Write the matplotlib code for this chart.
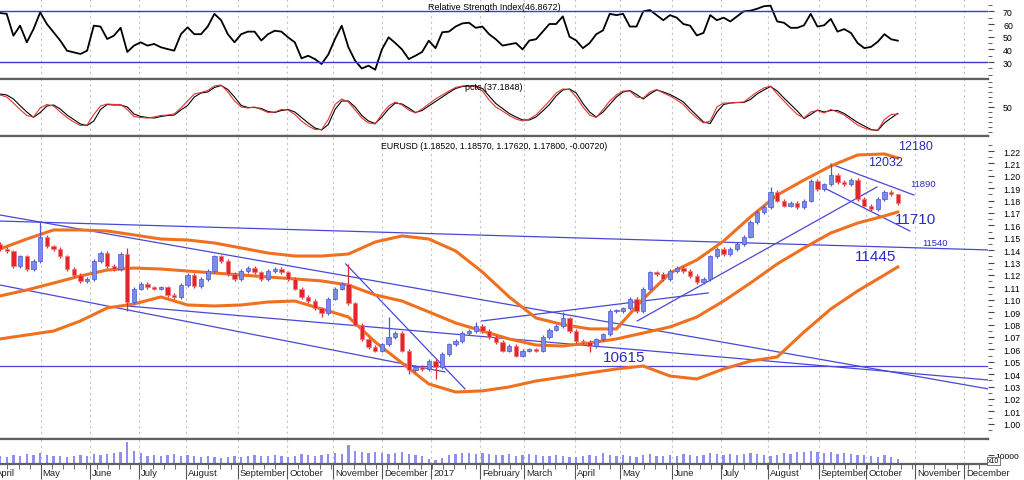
import numpy as np
import matplotlib
matplotlib.use("Agg")
import matplotlib.pyplot as plt

plt.rcParams['font.family'] = ['Liberation Sans', 'DejaVu Sans']

# one bar = 3 trading days, x axis is the bar number
month_pos = [-0.9, 6.07, 13.43, 20.75, 27.76, 35.52, 42.84, 49.7, 57.01, 64.33,
             71.64, 78.21, 85.82, 92.54, 100.3, 107.61, 114.63, 122.24, 129.25,
             136.57, 143.88]
month_names = ["April", "May", "June", "July", "August", "September", "October",
               "November", "December", "2017", "February", "March", "April", "May",
               "June", "July", "August", "September", "October", "November", "December"]

close = [1.141, 1.139, 1.127, 1.135, 1.125, 1.131, 1.151, 1.143, 1.141, 1.135,
         1.125, 1.120, 1.115, 1.117, 1.131, 1.138, 1.127, 1.125, 1.137, 1.098,
         1.109, 1.113, 1.110, 1.109, 1.110, 1.104, 1.102, 1.112, 1.120, 1.111,
         1.117, 1.123, 1.135, 1.131, 1.121, 1.117, 1.123, 1.126, 1.122, 1.117,
         1.123, 1.125, 1.122, 1.117, 1.109, 1.102, 1.099, 1.093, 1.089, 1.101,
         1.109, 1.113, 1.097, 1.080, 1.068, 1.062, 1.059, 1.064, 1.070, 1.073,
         1.059, 1.043, 1.046, 1.044, 1.051, 1.046, 1.056, 1.064, 1.067, 1.073,
         1.075, 1.079, 1.075, 1.070, 1.066, 1.059, 1.063, 1.055, 1.059, 1.060,
         1.059, 1.070, 1.076, 1.079, 1.085, 1.075, 1.067, 1.066, 1.063, 1.068,
         1.072, 1.091, 1.091, 1.093, 1.101, 1.091, 1.109, 1.122, 1.121, 1.117,
         1.123, 1.126, 1.123, 1.119, 1.114, 1.117, 1.135, 1.141, 1.137, 1.141,
         1.145, 1.151, 1.163, 1.171, 1.175, 1.187, 1.180, 1.176, 1.178, 1.175,
         1.180, 1.196, 1.189, 1.193, 1.201, 1.195, 1.193, 1.197, 1.181, 1.176,
         1.173, 1.181, 1.187, 1.1852, 1.178]
first_open = 1.145
spike_high = {6: 1.163, 19: 1.142, 52: 1.129, 58: 1.0865, 71: 1.082, 84: 1.090,
              115: 1.191, 124: 1.2095, 134: 1.1857}
spike_low = {19: 1.091, 48: 1.086, 61: 1.040, 65: 1.036, 88: 1.058, 134: 1.1762}

# bollinger style bands, sampled every 4 bars
band_bars = list(range(0, 133, 4)) + [134]
band_upper = [1.1410, 1.1490, 1.1563, 1.1563, 1.1555, 1.1523, 1.1490, 1.1482, 1.1458, 1.1418,
              1.1377, 1.1353, 1.1353, 1.1369, 1.1466, 1.1515, 1.1490, 1.1394, 1.1224, 1.1023,
              1.0853, 1.0800, 1.0765, 1.0765, 1.1006, 1.1216, 1.1321, 1.1474, 1.1668, 1.1845,
              1.1966, 1.2079, 1.2168, 1.2176, 1.2144]
band_mid = [1.1031, 1.1079, 1.1135, 1.1192, 1.1240, 1.1256, 1.1248, 1.1232, 1.1216, 1.1200,
            1.1184, 1.1168, 1.1152, 1.1119, 1.1039, 1.0990, 1.0902, 1.0813, 1.0748, 1.0684,
            1.0635, 1.0627, 1.0652, 1.0684, 1.0732, 1.0781, 1.0861, 1.0990, 1.1135, 1.1289,
            1.1418, 1.1539, 1.1619, 1.1676, 1.1708]
band_lower = [1.0684, 1.0716, 1.0748, 1.0829, 1.0934, 1.0966, 1.1023, 1.0958, 1.0950, 1.0958,
              1.0982, 1.0990, 1.0926, 1.0861, 1.0660, 1.0490, 1.0321, 1.0256, 1.0265, 1.0297,
              1.0345, 1.0377, 1.0410, 1.0442, 1.0466, 1.0385, 1.0361, 1.0442, 1.0506, 1.0539,
              1.0740, 1.0926, 1.1071, 1.1200, 1.1265]

rsi = [68.7, 68, 50.8, 58.7, 45.6, 56, 69.2, 60, 53.5, 46.9,
       39, 37.7, 36.4, 39, 58.7, 58, 48.2, 50.8, 57, 38,
       43, 45.6, 43, 44.3, 41.7, 40.3, 39, 52, 57.4, 52,
       52, 58, 68, 63, 52, 45.6, 52, 54, 54, 47,
       52, 54.7, 54, 49.5, 45.6, 33, 35, 32.4, 28.5, 36,
       48.2, 58.7, 41.7, 31.1, 25, 27.2, 24, 40, 49.5, 45,
       40, 32.4, 35, 38, 46.9, 41, 53.5, 54, 58, 60.5,
       61, 57, 58, 52, 48, 43, 44, 45, 40, 47,
       48, 54, 60, 60, 66, 50, 47, 41, 45, 52,
       55, 68, 67, 68, 58, 58, 70, 71, 67, 63,
       67, 65, 60, 58.7, 51, 53, 67, 63, 65, 62,
       66, 70, 70.5, 72, 74, 74.5, 62, 61, 57, 57,
       59, 68, 58, 59, 64, 54, 56, 53, 45, 41,
       42, 46, 52, 48, 46.87]

pctc_black = [76, 74, 66, 52.7, 40, 29.3, 39, 52, 54, 46,
              34, 25, 16, 13, 22, 45, 55, 54, 54, 50,
              36, 31, 29, 28, 31, 33, 34, 44, 53, 70,
              78, 80, 89, 93, 85, 70, 53, 49, 49, 47,
              41, 39, 43, 45, 40, 29, 18, 8, 4, 15,
              45, 62, 62, 50, 33, 22, 17, 30, 46, 58,
              56, 48, 39, 43, 52, 61, 70, 79, 87, 91,
              92, 92, 87, 72, 57, 47, 37, 30, 24, 24,
              30, 42, 55, 72, 84, 86, 78, 57, 40, 30,
              40, 55, 70, 80, 83, 75, 66, 76, 84, 80,
              75, 68, 60, 46, 33, 20, 17, 40, 55, 58,
              59, 59, 65, 76, 84, 91, 82, 68, 55, 42,
              27, 35, 44, 40, 43, 43, 37, 28, 19, 12,
              5, 3, 18, 28, 37.18]
pctc_red = [74, 70, 58, 45, 33, 30, 48, 55, 52, 40,
            29, 20, 13, 14, 35, 52, 56, 55, 55, 45,
            31, 29, 28, 30, 33, 34, 36, 48, 62, 76,
            79, 83, 92, 94, 80, 62, 50, 48, 50, 45,
            39, 40, 45, 44, 35, 22, 12, 5, 5, 25,
            55, 66, 60, 44, 28, 18, 16, 36, 52, 60,
            54, 44, 38, 46, 56, 66, 74, 82, 89, 92,
            93, 90, 82, 64, 50, 42, 33, 26, 22, 26,
            34, 48, 62, 78, 86, 85, 70, 50, 34, 29,
            45, 62, 74, 82, 82, 70, 68, 80, 85, 78,
            72, 64, 55, 40, 28, 18, 22, 50, 58, 58,
            59, 60, 70, 80, 88, 92, 76, 62, 48, 35,
            28, 40, 43, 38, 45, 40, 34, 24, 14, 8,
            4, 4, 25, 35, 36]

# volume in thousands
volume = [9, 8, 10, 9, 11, 10, 12, 10, 9, 9,
          8, 9, 10, 9, 11, 10, 11, 12, 13, 25,
          15, 12, 9, 10, 9, 10, 11, 9, 10, 9,
          8, 9, 8, 7, 8, 9, 8, 9, 10, 9,
          9, 10, 9, 8, 9, 11, 10, 9, 10, 11,
          12, 11, 21, 14, 13, 12, 13, 12, 11, 12,
          13, 11, 10, 9, 6, 5, 7, 10, 11, 12,
          12, 11, 12, 11, 10, 10, 11, 9, 10, 11,
          10, 9, 9, 10, 9, 8, 8, 9, 10, 9,
          12, 10, 9, 10, 9, 8, 10, 11, 9, 9,
          10, 9, 11, 10, 9, 10, 12, 11, 10, 11,
          10, 11, 12, 11, 10, 9, 10, 12, 11, 13,
          13, 14, 13, 12, 13, 11, 12, 11, 10, 10,
          9, 8, 10, 8, 6]

# hand drawn trend lines (bar, price) -> (bar, price)
trend_lines = [((0, 1.1635), (147.5, 1.1402)),
               ((0, 1.1684), (147.5, 1.0281)),
               ((0, 1.1119), (66.4, 1.0418)),
               ((18.96, 1.0950), (147.5, 1.0353)),
               ((0, 1.0466), (147.5, 1.0466)),
               ((51.6, 1.1289), (69.4, 1.0281)),
               ((71.9, 1.0829), (105.7, 1.1055)),
               ((95.1, 1.0829), (130.9, 1.1910)),
               ((124.0, 1.2095), (136.4, 1.1845)),
               ((123.3, 1.1894), (135.8, 1.1555))]

level_labels = [("12180", 136.6, 1.2240, 9),
                ("12032", 132.2, 1.2111, 9),
                ("11890", 137.8, 1.1934, 6.8),
                ("11710", 136.7, 1.1652, 11),
                ("11540", 139.6, 1.1466, 6.8),
                ("11445", 130.7, 1.1353, 11),
                ("10615", 93.1, 1.0539, 11)]

BLUE = '#3c3cc8'
ORANGE = '#f07020'
GRID = '#c4c4c4'
SEP = '#606060'
WICK = 0.0015

W, H = 1024, 481
fig = plt.figure(figsize=(W / 100, H / 100), dpi=100)


def panel(top, bottom, share=None):
    a = fig.add_axes([0, 1 - bottom / H, 988 / W, (bottom - top) / H], sharex=share)
    for s in ('left', 'right'):
        a.spines[s].set_visible(False)
    for s in ('top', 'bottom'):
        a.spines[s].set_color(SEP)
        a.spines[s].set_linewidth(1.6)
    a.yaxis.tick_right()
    a.tick_params(axis='y', which='both', direction='out', color='#444', labelsize=6.3,
                  length=4.3, pad=6.5)
    a.tick_params(axis='y', which='minor', length=3)
    a.tick_params(axis='x', which='both', length=0, labelbottom=False)
    for m in month_pos:
        a.axvline(m, color=GRID, lw=0.8, ls=(0, (2, 3)), zorder=0)
    return a


ax_rsi = panel(0, 80)
ax_rsi.spines['top'].set_visible(False)
ax_st = panel(80, 137, ax_rsi)
ax = panel(137, 440, ax_rsi)
ax_v = panel(440, 465, ax_rsi)

bars = np.arange(len(close))
ax_rsi.set_xlim(0, 147.46)

# RSI
ax_rsi.plot(bars, rsi, color='black', lw=1.3)
ax_rsi.axhline(70, color=BLUE, lw=1)
ax_rsi.axhline(30, color=BLUE, lw=1)
ax_rsi.set_ylim(16.7, 79.7)
ax_rsi.set_yticks([30, 40, 50, 60, 70])
ax_rsi.set_yticks(np.arange(20, 80, 5), minor=True)
ax_rsi.text(0.5, 0.91, "Relative Strength Index(46.8672)", transform=ax_rsi.transAxes,
            ha='center', va='center', fontsize=6.5)

# pctc
ax_st.plot(bars, pctc_black, color='black', lw=0.8)
ax_st.plot(bars, pctc_red, color='#e03535', lw=0.8)
ax_st.set_ylim(-8, 106)
ax_st.set_yticks([50])
ax_st.set_yticks(np.arange(0, 101, 10), minor=True)
ax_st.text(0.5, 0.86, "pctc (37.1848)", transform=ax_st.transAxes,
           ha='center', va='center', fontsize=6.5)

# price candles
opens = [first_open] + close[:-1]
for i, (o, c) in enumerate(zip(opens, close)):
    up = c >= o
    hi = spike_high.get(i, max(o, c) + WICK)
    lo = spike_low.get(i, min(o, c) - WICK)
    col = '#4a5ad4' if up else '#e3262c'
    ax.vlines(i, lo, hi, color=col, lw=0.9, zorder=3)
    body = max(abs(c - o), 0.0007)
    ax.bar(i, body, bottom=min(o, c), width=0.65, color='#7d8ae6' if up else '#e3262c',
           edgecolor=col if up else '#f07a7a', linewidth=0.5, zorder=4)

for band in (band_upper, band_mid, band_lower):
    ax.plot(band_bars, band, color=ORANGE, lw=2.2, zorder=2)

for (x0, y0), (x1, y1) in trend_lines:
    ax.plot([x0, x1], [y0, y1], color='#4848d8', lw=0.9, zorder=1)

for txt, x, y, fs in level_labels:
    ax.text(x, y, txt, color='#2a2ac0', fontsize=fs, ha='center', va='center')

ax.set_ylim(0.9877, 1.2321)
yt = np.arange(100, 123) / 100
ax.set_yticks(yt)
ax.set_yticklabels([f"{v:.2f}" for v in yt])
ax.set_yticks(np.arange(0.995, 1.23, 0.005), minor=True)
ax.text(0.5, 0.97, "EURUSD (1.18520, 1.18570, 1.17620, 1.17800, -0.00720)",
        transform=ax.transAxes, ha='center', va='center', fontsize=6.3)

# volume
ax_v.bar(bars, volume, width=0.35, color='#8f8ff0', zorder=2)
ax_v.set_ylim(0, 27.8)
ax_v.set_yticks([10])
ax_v.set_yticklabels(["10000"])
ax_v.tick_params(axis='y', which='major', pad=1, labelsize=6)
ax_v.text(1.0, 0.12, "x10", transform=ax_v.transAxes, fontsize=5, ha='left', va='center',
          bbox=dict(boxstyle='square,pad=0.1', fc='white', ec='#444', lw=0.5))

# month axis at the bottom
ax_v.set_xticks([m for m in month_pos if m > 0])
ax_v.set_xticks(np.arange(1.1, 147, 5 / 3), minor=True)
ax_v.tick_params(axis='x', which='major', length=11, color='#555', direction='out')
ax_v.tick_params(axis='x', which='minor', length=3.5, color='#555', direction='out')
for m, name in zip(month_pos, month_names):
    ax_v.text(m + 0.3, -0.36, name, transform=ax_v.get_xaxis_transform(),
              ha='left', va='center', fontsize=6.8, color='#222')

fig.savefig('out.png', dpi=100)
